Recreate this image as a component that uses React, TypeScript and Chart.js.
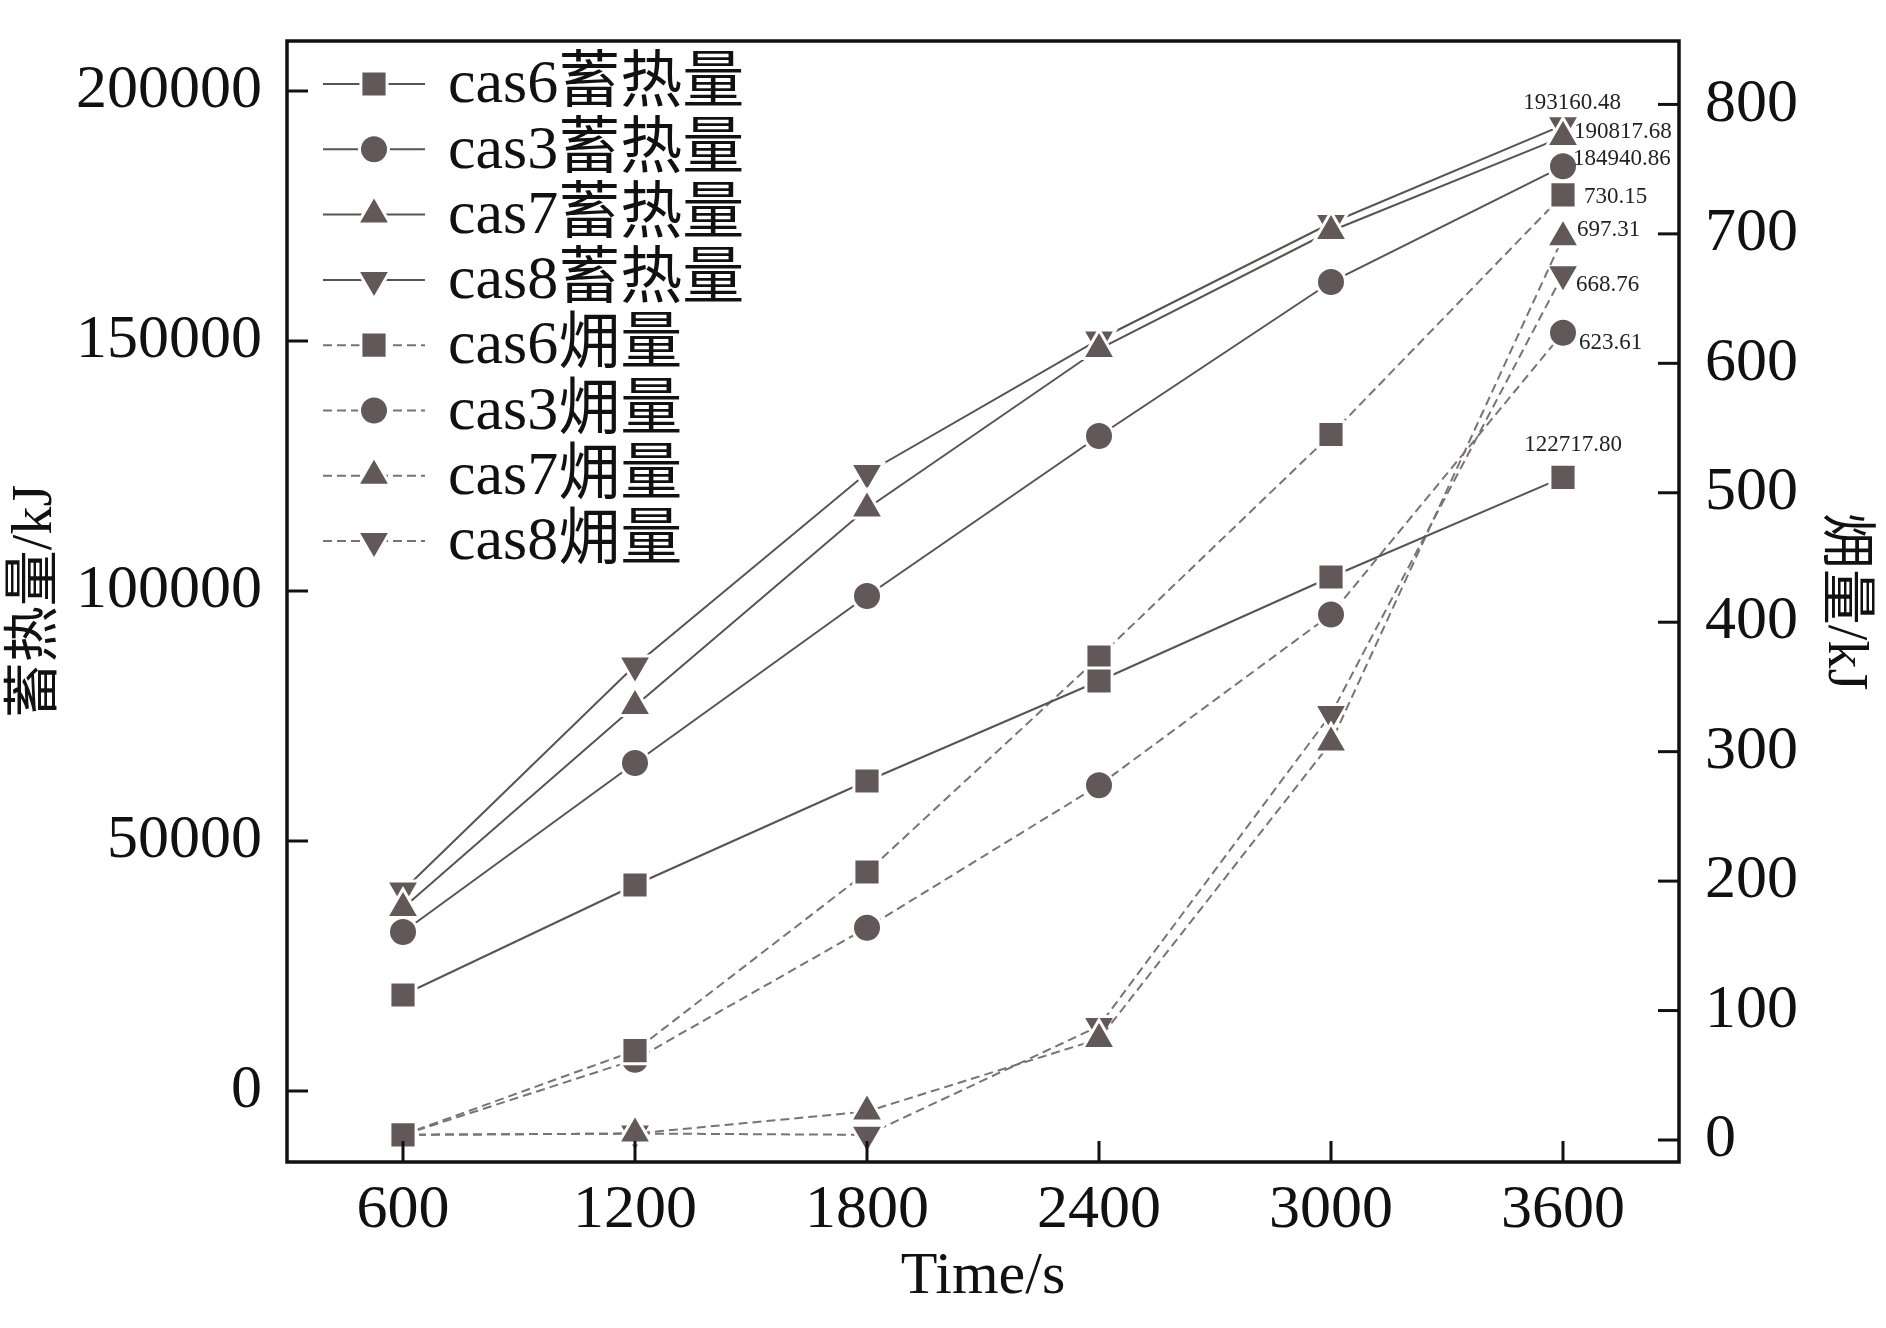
import { useEffect, useRef } from 'react';
import { Chart, registerables } from 'chart.js';
import { drawPoint } from 'chart.js/helpers';

Chart.register(...registerables);

// time steps (s)
const times = [600, 1200, 1800, 2400, 3000, 3600];
const xTicks = [600, 1200, 1800, 2400, 3000, 3600];
const heatTicks = [0, 50000, 100000, 150000, 200000];
const exergyTicks = [0, 100, 200, 300, 400, 500, 600, 700, 800];

// heat storage, kJ (left axis)
const cas6Heat = [19200, 41200, 62000, 82000, 102800, 122717.8];
const cas3Heat = [31800, 65600, 99000, 131000, 161800, 184940.86];
const cas7Heat = [36600, 77000, 116500, 148400, 172000, 190817.68];
const cas8Heat = [40100, 85100, 123600, 150300, 173600, 193160.48];

// exergy, kJ (right axis)
const cas6Exergy = [4, 69, 207, 373, 545, 730.15];
const cas3Exergy = [4, 62, 164, 274, 406, 623.61];
const cas7Exergy = [4, 5, 22, 78, 307, 697.31];
const cas8Exergy = [4, 5, 4, 88, 329, 668.76];

const FONT = '"Liberation Serif", "Noto Sans CJK SC", serif';
const MARK = '#625859';
const SOLID = '#5b5253';
const DASHED = '#7b7273';

const toPoints = (vals: number[]) => times.map((t, i) => ({ x: t, y: vals[i] }));

const shape = (style: string) => {
  if (style === 'rect') return { pointStyle: 'rect', pointRadius: 18.5, pointRotation: 0 };
  if (style === 'circle') return { pointStyle: 'circle', pointRadius: 14.5, pointRotation: 0 };
  if (style === 'down') return { pointStyle: 'triangle', pointRadius: 19, pointRotation: 180 };
  return { pointStyle: 'triangle', pointRadius: 19, pointRotation: 0 };
};

const makeSet = (label: string, vals: number[], style: string, axis: string, dashed: boolean) => ({
  label,
  data: toPoints(vals),
  yAxisID: axis,
  borderColor: dashed ? DASHED : SOLID,
  borderWidth: 2,
  borderDash: dashed ? [9, 5] : [],
  backgroundColor: MARK,
  pointBackgroundColor: MARK,
  pointBorderColor: '#ffffff',
  pointBorderWidth: 3,
  tension: 0,
  ...shape(style),
});

// value labels at the last point: [dataset index, dx, dy, align]
const endLabels: [number, number, number, CanvasTextAlign][] = [
  [3, 9, -22, 'center'],
  [2, 11, -5, 'left'],
  [1, 10, -7, 'left'],
  [0, 10, -32, 'center'],
  [4, 21, 2, 'left'],
  [6, 14, -7, 'left'],
  [7, 13, 11, 'left'],
  [5, 16, 10, 'left'],
];

const endLabelPlugin = {
  id: 'endLabels',
  afterDatasetsDraw(chart: any) {
    const { ctx } = chart;
    ctx.save();
    ctx.font = `23px ${FONT}`;
    ctx.fillStyle = '#222';
    ctx.textBaseline = 'middle';
    endLabels.forEach(([di, dx, dy, align]) => {
      const meta = chart.getDatasetMeta(di);
      const pt = meta.data[meta.data.length - 1];
      const ds = chart.data.datasets[di];
      const v = ds.data[ds.data.length - 1].y;
      ctx.textAlign = align;
      ctx.fillText(v.toFixed(2), pt.x + dx, pt.y + dy);
    });
    ctx.restore();
  },
};

const framePlugin = {
  id: 'frame',
  afterDraw(chart: any) {
    const { ctx, chartArea: a, scales } = chart;
    ctx.save();
    ctx.strokeStyle = '#111';
    ctx.lineWidth = 3;
    ctx.setLineDash([]);
    // inward ticks
    scales.x.ticks.forEach((t: any) => {
      const p = scales.x.getPixelForValue(t.value);
      ctx.beginPath();
      ctx.moveTo(p, a.bottom);
      ctx.lineTo(p, a.bottom - 21);
      ctx.stroke();
    });
    scales.y.ticks.forEach((t: any) => {
      const p = scales.y.getPixelForValue(t.value);
      ctx.beginPath();
      ctx.moveTo(a.left, p);
      ctx.lineTo(a.left + 21, p);
      ctx.stroke();
    });
    scales.y1.ticks.forEach((t: any) => {
      const p = scales.y1.getPixelForValue(t.value);
      ctx.beginPath();
      ctx.moveTo(a.right, p);
      ctx.lineTo(a.right - 21, p);
      ctx.stroke();
    });
    ctx.lineWidth = 3.5;
    ctx.strokeRect(a.left, a.top, a.right - a.left, a.bottom - a.top);
    ctx.restore();
  },
};

const legendPlugin = {
  id: 'lineLegend',
  afterDraw(chart: any) {
    const { ctx, chartArea: a } = chart;
    ctx.save();
    chart.data.datasets.forEach((ds: any, i: number) => {
      const y = a.top + 43 + i * 65.3;
      const x0 = a.left + 36;
      const x1 = a.left + 138;
      const xm = (x0 + x1) / 2;
      ctx.strokeStyle = ds.borderColor;
      ctx.lineWidth = 2;
      ctx.setLineDash(ds.borderDash);
      ctx.beginPath();
      ctx.moveTo(x0, y);
      ctx.lineTo(x1, y);
      ctx.stroke();
      ctx.setLineDash([]);
      ctx.fillStyle = MARK;
      ctx.strokeStyle = '#ffffff';
      ctx.lineWidth = 3;
      drawPoint(ctx, { pointStyle: ds.pointStyle, rotation: ds.pointRotation, radius: ds.pointRadius, borderWidth: 3 }, xm, y);
      ctx.fillStyle = '#111';
      ctx.font = `62px ${FONT}`;
      ctx.textAlign = 'left';
      ctx.textBaseline = 'middle';
      ctx.fillText(ds.label, a.left + 161, y + 2);
    });
    ctx.restore();
  },
};

const App = () => {
  const canvasRef = useRef<HTMLCanvasElement | null>(null);

  useEffect(() => {
    if (!canvasRef.current) return;
    Chart.defaults.font.family = FONT;
    Chart.defaults.color = '#111';

    const datasets = [
      makeSet('cas6蓄热量', cas6Heat, 'rect', 'y', false),
      makeSet('cas3蓄热量', cas3Heat, 'circle', 'y', false),
      makeSet('cas7蓄热量', cas7Heat, 'up', 'y', false),
      makeSet('cas8蓄热量', cas8Heat, 'down', 'y', false),
      makeSet('cas6㶲量', cas6Exergy, 'rect', 'y1', true),
      makeSet('cas3㶲量', cas3Exergy, 'circle', 'y1', true),
      makeSet('cas7㶲量', cas7Exergy, 'up', 'y1', true),
      makeSet('cas8㶲量', cas8Exergy, 'down', 'y1', true),
    ];

    const fitY = (w: number) => (s: any) => {
      s.width = w;
      s.paddingTop = 0;
      s.paddingBottom = 0;
    };

    const chart = new Chart(canvasRef.current, {
      type: 'line',
      data: { datasets } as any,
      options: {
        responsive: false,
        animation: false,
        devicePixelRatio: 1,
        layout: { padding: { top: 41, left: 0, right: 0, bottom: 0 } },
        plugins: { legend: { display: false }, tooltip: { enabled: false } },
        scales: {
          x: {
            type: 'linear',
            min: 300,
            max: 3900,
            grid: { display: false },
            border: { display: false },
            afterBuildTicks: (s: any) => { s.ticks = xTicks.map((v) => ({ value: v })); },
            afterFit: (s: any) => { s.height = 166; s.paddingLeft = 0; s.paddingRight = 0; },
            ticks: { font: { size: 62 }, padding: 4, color: '#111', maxRotation: 0, callback: (v: any) => String(v) },
            title: { display: true, text: 'Time/s', font: { size: 60, lineHeight: 1 }, padding: { bottom: 21, top: 0 }, color: '#111' },
          },
          y: {
            type: 'linear',
            position: 'left',
            min: -14200,
            max: 210000,
            grid: { display: false },
            border: { display: false },
            afterBuildTicks: (s: any) => { s.ticks = heatTicks.map((v) => ({ value: v })); },
            afterFit: fitY(287),
            ticks: { font: { size: 62 }, padding: 17, color: '#111', callback: (v: any) => String(v) },
            title: { display: true, text: '蓄热量/kJ', font: { size: 56, lineHeight: 1 }, padding: { top: 8, bottom: 0 }, color: '#111' },
          },
          y1: {
            type: 'linear',
            position: 'right',
            min: -17,
            max: 849,
            grid: { display: false },
            border: { display: false },
            afterBuildTicks: (s: any) => { s.ticks = exergyTicks.map((v) => ({ value: v })); },
            afterFit: fitY(207),
            ticks: { font: { size: 62 }, padding: 18, color: '#111', callback: (v: any) => String(v) },
            title: { display: true, text: '㶲量/kJ', font: { size: 56, lineHeight: 1 }, padding: { top: 14, bottom: 0 }, color: '#111' },
          },
        },
      } as any,
      plugins: [endLabelPlugin, framePlugin, legendPlugin],
    });

    return () => chart.destroy();
  }, []);

  return (
    <div style={{ position: 'absolute', left: 0, top: 0, width: 1886, height: 1328, background: '#fff' }}>
      <canvas ref={canvasRef} width={1886} height={1328} />
    </div>
  );
};

export default App;
